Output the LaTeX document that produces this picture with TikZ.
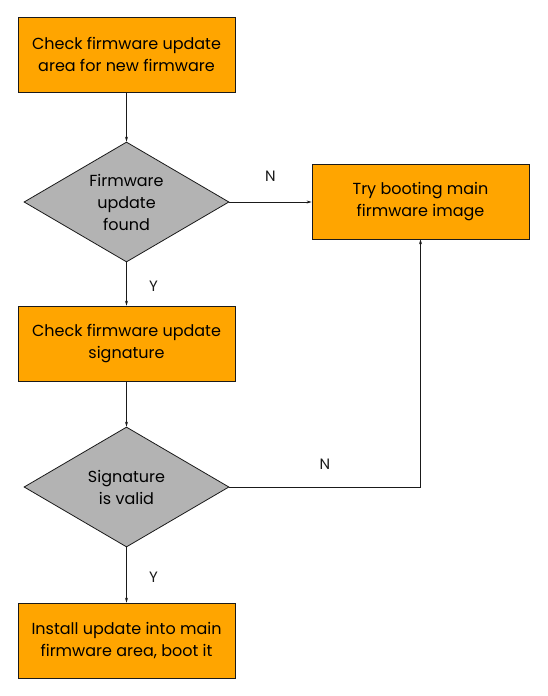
\documentclass[tikz,border=0pt]{standalone}
\usepackage{fontspec}
\setmainfont{Poppins}
\usepackage{tikz}
\usetikzlibrary{shapes.geometric,arrows.meta,positioning}
\definecolor{boxorange}{HTML}{FFA500}
\definecolor{decgray}{HTML}{B3B3B3}
\definecolor{edgedark}{HTML}{1A1A1A}

\begin{document}
\begin{tikzpicture}[x=1pt,y=-1pt]

\tikzset{
  stepbox/.style={rectangle, draw=edgedark, fill=boxorange, line width=0.8pt,
                  font=\fontsize{16}{22}\selectfont, align=center,
                  minimum width=217pt, minimum height=75pt, inner sep=2pt},
  decision/.style={diamond, draw=edgedark, fill=decgray, line width=0.8pt,
                  font=\fontsize{16}{22}\selectfont, align=center, aspect=1.71,
                  minimum width=205pt, minimum height=120pt, inner sep=0pt},
  flow/.style={edgedark, line width=0.7pt, -{Stealth[length=5pt, width=3pt]}},
  answer/.style={font=\fontsize{15}{18}\selectfont}
}

% Canvas
\useasboundingbox (0,0) rectangle (548,696);

% Steps
\node[stepbox] (check)   at (126.5, 54.5)  {Check firmware update\\area for new firmware};
\node[stepbox] (boot)    at (420.5, 201.5) {Try booting main\\firmware image};
\node[stepbox] (sigchk)  at (126.5, 343.5) {Check firmware update\\signature};
\node[stepbox] (install) at (126.5, 640.5) {Install update into main\\firmware area, boot it};

% Decisions
\node[decision] (found) at (126.5, 202) {Firmware\\update\\found};
\node[decision] (valid) at (126.5, 487) {Signature\\is valid};

% Lines
\draw[flow] (check.south) -- (found.north);
\draw[flow] (found.east) -- node[answer, pos=0.5, above=17pt] {N} (found.east -| boot.west);
\draw[flow] (found.south) -- node[answer, pos=0.55, right=19pt] {Y} (sigchk.north);
\draw[flow] (sigchk.south) -- (valid.north);
\draw[flow] (valid.east) -- node[answer, pos=0.5, above=14pt] {N} (valid.east -| boot.south) -- (boot.south);
\draw[flow] (valid.south) -- node[answer, pos=0.55, right=19pt] {Y} (install.north);

\end{tikzpicture}
\end{document}
